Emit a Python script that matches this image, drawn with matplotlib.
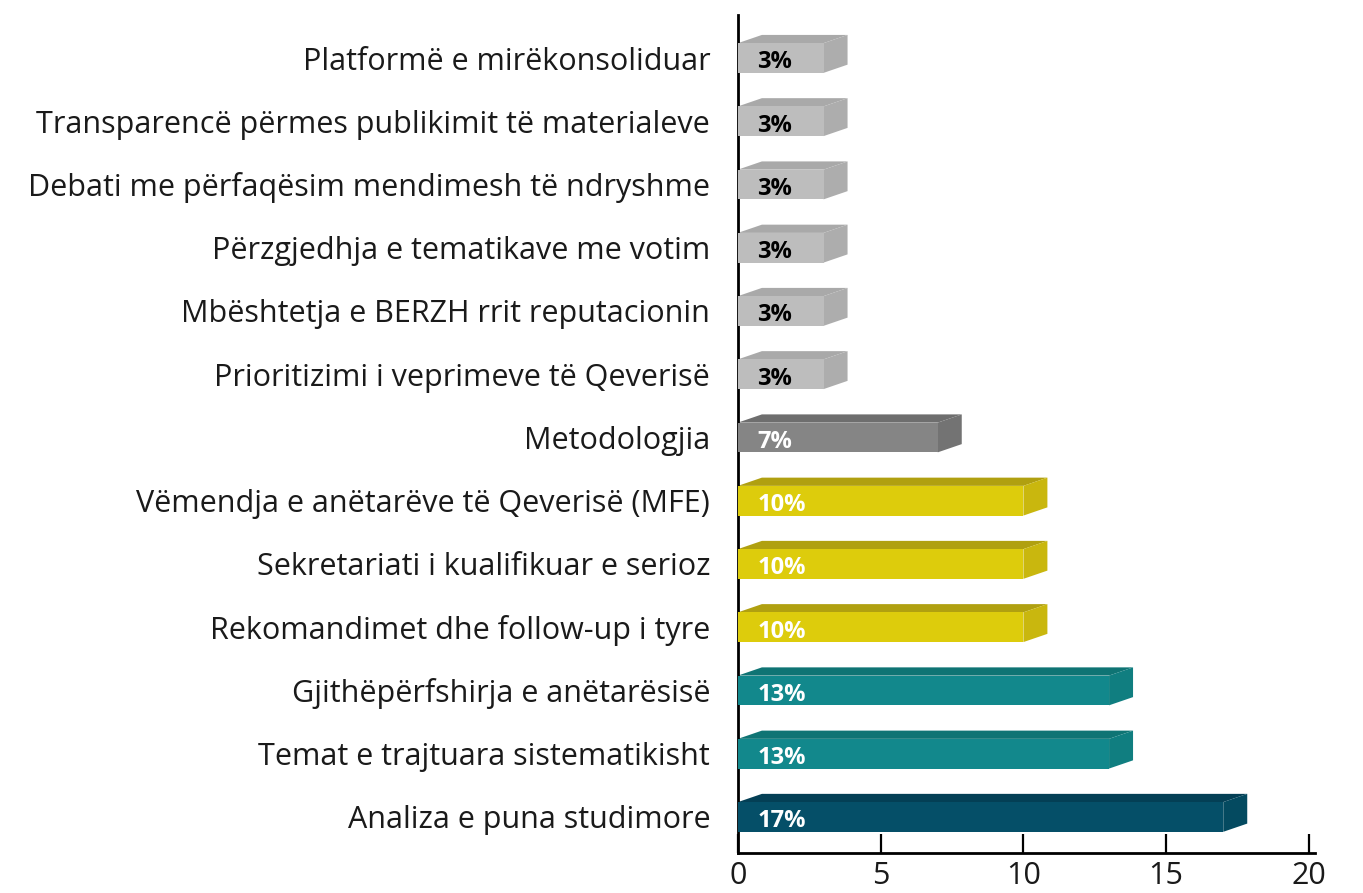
import matplotlib
matplotlib.use('Agg')
import matplotlib.pyplot as plt
from matplotlib.patches import Polygon

## Data (top to bottom as shown)
categories = ['Platformë e mirëkonsoliduar',
              'Transparencë përmes publikimit të materialeve',
              'Debati me përfaqësim mendimesh të ndryshme',
              'Përzgjedhja e tematikave me votim',
              'Mbështetja e BERZH rrit reputacionin',
              'Prioritizimi i veprimeve të Qeverisë',
              'Metodologjia',
              'Vëmendja e anëtarëve të Qeverisë (MFE)',
              'Sekretariati i kualifikuar e serioz',
              'Rekomandimet dhe follow-up i tyre',
              'Gjithëpërfshirja e anëtarësisë',
              'Temat e trajtuara sistematikisht',
              'Analiza e puna studimore']
values = [3, 3, 3, 3, 3, 3, 7, 10, 10, 10, 13, 13, 17]
labels = ['3%', '3%', '3%', '3%', '3%', '3%', '7%', '10%', '10%', '10%', '13%', '13%', '17%']

## colours per group: (front, top, side, text)
palette = {
    3:  ('#bdbdbd', '#a9a9a9', '#adadad', 'black'),
    7:  ('#858585', '#6e6e6e', '#737373', 'white'),
    10: ('#ddcc0c', '#b0a010', '#c9b70e', 'white'),
    13: ('#12888c', '#0f7474', '#107e80', 'white'),
    17: ('#054f68', '#043f55', '#044a60', 'white'),
}

bar_h = 0.47
dx = 0.84   # depth offset in x data units
dy = 0.13   # depth offset in y data units

plt.rcParams['font.family'] = ['Open Sans', 'DejaVu Sans']

fig = plt.figure(figsize=(13.63, 8.93), dpi=100)
ax = fig.add_axes([0.5414, 0.0448, 0.4231, 0.9384])

for i, v in enumerate(values):
    front, top, side, tc = palette[v]
    y0 = i - bar_h / 2
    y1 = i + bar_h / 2
    ax.barh(i, v, height=bar_h, left=0, color=front, edgecolor='none', zorder=3)
    # top face
    ax.add_patch(Polygon([(0, y0), (v, y0), (v + dx, y0 - dy), (dx, y0 - dy)],
                         closed=True, facecolor=top, edgecolor='none', zorder=2))
    # side face
    ax.add_patch(Polygon([(v, y0), (v + dx, y0 - dy), (v + dx, y1 - dy), (v, y1)],
                         closed=True, facecolor=side, edgecolor='none', zorder=2))
    ax.text(0.68, i + 0.07, labels[i], ha='left', va='center', fontsize=17,
            fontweight='bold', color=tc, zorder=4)

ax.set_yticks(range(len(categories)))
ax.set_yticklabels(categories, fontsize=22, color='#1a1a1a')
ax.set_ylim(12.57, -0.68)
ax.set_xlim(0, 20.2)
ax.set_xticks([0, 5, 10, 15, 20])
ax.tick_params(axis='y', length=0, pad=20)
ax.tick_params(axis='x', direction='in', length=14, width=1.6, labelsize=22, pad=6,
               labelcolor='#1a1a1a')

for s in ['top', 'right']:
    ax.spines[s].set_visible(False)
for s in ['left', 'bottom']:
    ax.spines[s].set_linewidth(2)
    ax.spines[s].set_color('black')

fig.savefig('out.png', dpi=100)
